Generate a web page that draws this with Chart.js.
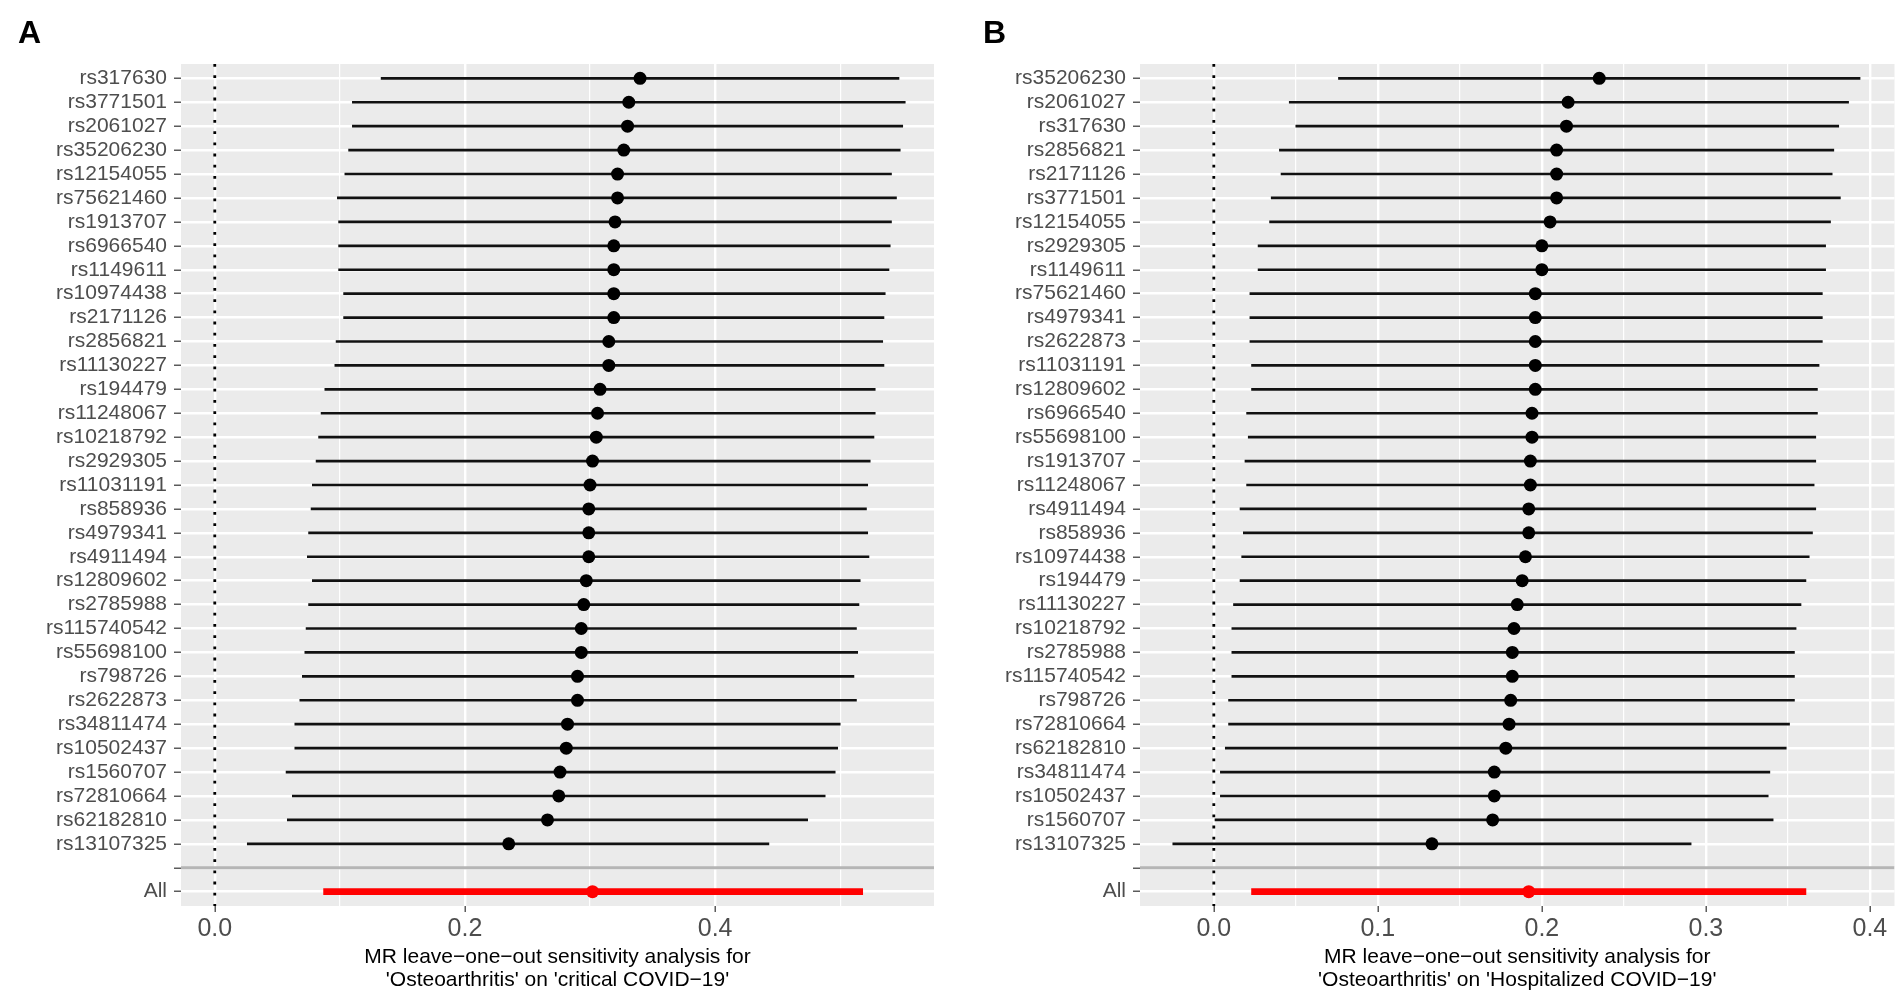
<!DOCTYPE html>
<html>
<head>
<meta charset="utf-8">
<script src="https://cdn.jsdelivr.net/npm/chart.js@4.4.1/dist/chart.umd.min.js"></script>
<style>
    body { margin: 0; background: #fff; width: 1901px; height: 1001px; overflow: hidden; position: relative; font-family: "Liberation Sans", Arial, sans-serif; }
    canvas { position: absolute; top: 0; }
    .tag { position: absolute; top: 16px; font-size: 32px; line-height: 32px; font-weight: bold; color: #000; z-index: 2; }
</style>
</head>
<body>
<canvas id="chart-a" width="960" height="1001" style="left:0;width:960px;height:1001px"></canvas>
<canvas id="chart-b" width="941" height="1001" style="left:960px;width:941px;height:1001px"></canvas>
<div class="tag" style="left:18px">A</div>
<div class="tag" style="left:983px">B</div>
<script>
// Panel A: 'Osteoarthritis' on 'critical COVID-19'
const A_SNPS = ['rs317630', 'rs3771501', 'rs2061027', 'rs35206230', 'rs12154055', 'rs75621460', 'rs1913707',
    'rs6966540', 'rs1149611', 'rs10974438', 'rs2171126', 'rs2856821', 'rs11130227', 'rs194479', 'rs11248067',
    'rs10218792', 'rs2929305', 'rs11031191', 'rs858936', 'rs4979341', 'rs4911494', 'rs12809602', 'rs2785988',
    'rs115740542', 'rs55698100', 'rs798726', 'rs2622873', 'rs34811474', 'rs10502437', 'rs1560707', 'rs72810664',
    'rs62182810', 'rs13107325'];
const A_EST = [0.340, 0.331, 0.330, 0.327, 0.322, 0.322, 0.320, 0.319, 0.319, 0.319, 0.319, 0.315, 0.315, 0.308,
    0.306, 0.305, 0.302, 0.300, 0.299, 0.299, 0.299, 0.297, 0.295, 0.293, 0.293, 0.290, 0.290, 0.282, 0.281,
    0.276, 0.275, 0.266, 0.235];
const A_LO = [0.133, 0.110, 0.110, 0.107, 0.104, 0.098, 0.099, 0.099, 0.099, 0.103, 0.103, 0.097, 0.096, 0.088,
    0.085, 0.083, 0.081, 0.078, 0.077, 0.075, 0.074, 0.078, 0.075, 0.073, 0.072, 0.070, 0.068, 0.064, 0.064,
    0.057, 0.062, 0.058, 0.026];
const A_HI = [0.547, 0.552, 0.550, 0.548, 0.541, 0.545, 0.541, 0.540, 0.539, 0.536, 0.535, 0.534, 0.535, 0.528,
    0.528, 0.527, 0.524, 0.522, 0.521, 0.522, 0.523, 0.516, 0.515, 0.513, 0.514, 0.511, 0.513, 0.500, 0.498,
    0.496, 0.488, 0.474, 0.443];
const A_ALL = [0.302, 0.087, 0.518]; // estimate, lower, upper
const A_X_TICKS = [0, 0.1, 0.2, 0.3, 0.4, 0.5];
const A_X_LABELS = ['0.0', '', '0.2', '', '0.4', ''];
const A_TITLE = ['MR leave\u2212one\u2212out sensitivity analysis for', "'Osteoarthritis' on 'critical COVID\u221219'"];

// Panel B: 'Osteoarthritis' on 'Hospitalized COVID-19'
const B_SNPS = ['rs35206230', 'rs2061027', 'rs317630', 'rs2856821', 'rs2171126', 'rs3771501', 'rs12154055',
    'rs2929305', 'rs1149611', 'rs75621460', 'rs4979341', 'rs2622873', 'rs11031191', 'rs12809602', 'rs6966540',
    'rs55698100', 'rs1913707', 'rs11248067', 'rs4911494', 'rs858936', 'rs10974438', 'rs194479', 'rs11130227',
    'rs10218792', 'rs2785988', 'rs115740542', 'rs798726', 'rs72810664', 'rs62182810', 'rs34811474', 'rs10502437',
    'rs1560707', 'rs13107325'];
const B_EST = [0.235, 0.216, 0.215, 0.209, 0.209, 0.209, 0.205, 0.200, 0.200, 0.196, 0.196, 0.196, 0.196, 0.196,
    0.194, 0.194, 0.193, 0.193, 0.192, 0.192, 0.190, 0.188, 0.185, 0.183, 0.182, 0.182, 0.181, 0.180, 0.178,
    0.171, 0.171, 0.170, 0.133];
const B_LO = [0.076, 0.046, 0.050, 0.040, 0.041, 0.035, 0.034, 0.027, 0.027, 0.022, 0.022, 0.022, 0.023, 0.023,
    0.020, 0.021, 0.019, 0.020, 0.016, 0.018, 0.017, 0.016, 0.012, 0.011, 0.011, 0.011, 0.009, 0.009, 0.007,
    0.004, 0.004, 0.000, -0.025];
const B_HI = [0.394, 0.387, 0.381, 0.378, 0.377, 0.382, 0.376, 0.373, 0.373, 0.371, 0.371, 0.371, 0.369, 0.368,
    0.368, 0.367, 0.367, 0.366, 0.367, 0.365, 0.363, 0.361, 0.358, 0.355, 0.354, 0.354, 0.354, 0.351, 0.349,
    0.339, 0.338, 0.341, 0.291];
const B_ALL = [0.192, 0.023, 0.361];
const B_X_TICKS = [0, 0.05, 0.1, 0.15, 0.2, 0.25, 0.3, 0.35, 0.4];
const B_X_LABELS = ['0.0', '', '0.1', '', '0.2', '', '0.3', '', '0.4'];
const B_TITLE = ['MR leave\u2212one\u2212out sensitivity analysis for', "'Osteoarthritis' on 'Hospitalized COVID\u221219'"];

const FONT = '"Liberation Sans", Arial, sans-serif';

// grey ggplot panel behind the grid
const panelBg = {
    id: 'panelBg',
    beforeDraw: function(chart) {
        const a = chart.chartArea;
        const ctx = chart.ctx;
        ctx.save();
        ctx.fillStyle = '#ebebeb';
        ctx.fillRect(a.left, a.top, a.right - a.left, a.bottom - a.top);
        ctx.restore();
    }
};

function forestPlot(id, snps, est, lo, hi, all, xTicks, xLabels, xMin, xMax, title, yWidth, padRight) {
    const rows = snps.concat(['', 'All']);
    const blankRow = snps.length;
    const allRow = snps.length + 1;
    const yMin = -0.6;
    const yMax = rows.length - 1 + 0.6;
    const isMajor = i => xLabels[i] !== '';

    return new Chart(document.getElementById(id), {
        type: 'scatter',
        data: {
            datasets: [
                {
                    type: 'scatter',
                    data: [{ x: all[0], y: allRow }],
                    backgroundColor: '#ff0000',
                    borderWidth: 0,
                    pointRadius: 6.5,
                    order: 0
                },
                {
                    type: 'scatter',
                    data: est.map((v, i) => ({ x: v, y: i })),
                    backgroundColor: '#000',
                    borderWidth: 0,
                    pointRadius: 6.5,
                    order: 1
                },
                {
                    type: 'bar',
                    indexAxis: 'y',
                    data: [{ y: allRow, x: [all[1], all[2]] }],
                    backgroundColor: '#ff0000',
                    barThickness: 6,
                    grouped: false,
                    borderWidth: 0,
                    order: 2
                },
                {
                    type: 'bar',
                    indexAxis: 'y',
                    data: snps.map((s, i) => ({ y: i, x: [lo[i], hi[i]] })),
                    backgroundColor: '#111',
                    barThickness: 2,
                    grouped: false,
                    borderWidth: 0,
                    order: 2
                },
                {
                    type: 'line',
                    data: [{ x: xMin, y: blankRow }, { x: xMax, y: blankRow }],
                    borderColor: '#b5b5b5',
                    borderWidth: 3,
                    pointRadius: 0,
                    order: 3
                },
                {
                    type: 'line',
                    data: [{ x: 0, y: yMin }, { x: 0, y: yMax }],
                    borderColor: '#000',
                    borderWidth: 2.8,
                    borderDash: [2.8, 8.4],
                    borderCapStyle: 'butt',
                    pointRadius: 0,
                    order: 4
                }
            ]
        },
        options: {
            responsive: false,
            animation: false,
            events: [],
            layout: { padding: { top: 64, right: padRight, left: 0, bottom: 0 } },
            plugins: { legend: { display: false }, tooltip: { enabled: false } },
            scales: {
                x: {
                    type: 'linear',
                    min: xMin,
                    max: xMax,
                    offset: false,
                    beginAtZero: false,
                    afterBuildTicks: axis => { axis.ticks = xTicks.map(v => ({ value: v })); },
                    afterFit: axis => { axis.height = 95; },
                    border: { display: false },
                    grid: {
                        offset: false,
                        color: '#fff',
                        lineWidth: ctx => isMajor(ctx.index) ? 2.4 : 1.2,
                        tickColor: ctx => isMajor(ctx.index) ? '#333' : 'rgba(0,0,0,0)',
                        tickWidth: 1.2,
                        tickLength: 6
                    },
                    ticks: {
                        autoSkip: false,
                        maxRotation: 0,
                        minRotation: 0,
                        padding: 2,
                        color: '#4d4d4d',
                        font: { family: FONT, size: 25 },
                        callback: (v, i) => xLabels[i]
                    },
                    title: {
                        display: true,
                        text: title,
                        color: '#000',
                        font: { family: FONT, size: 21, lineHeight: 1.1 },
                        padding: { top: 0, bottom: 9 }
                    }
                },
                y: {
                    type: 'linear',
                    min: yMin,
                    max: yMax,
                    reverse: true,
                    offset: false,
                    afterBuildTicks: axis => { axis.ticks = rows.map((r, i) => ({ value: i })); },
                    afterFit: axis => { axis.width = yWidth; },
                    border: { display: false },
                    grid: {
                        offset: false,
                        color: '#fff',
                        lineWidth: 2.4,
                        tickColor: '#333',
                        tickWidth: 1.2,
                        tickLength: 7
                    },
                    ticks: {
                        autoSkip: false,
                        padding: 7,
                        color: '#4d4d4d',
                        font: { family: FONT, size: 21, lineHeight: 1 },
                        callback: v => rows[v]
                    }
                }
            }
        },
        plugins: [panelBg]
    });
}

forestPlot('chart-a', A_SNPS, A_EST, A_LO, A_HI, A_ALL, A_X_TICKS, A_X_LABELS, -0.027, 0.575, A_TITLE, 181, 26);
forestPlot('chart-b', B_SNPS, B_EST, B_LO, B_HI, B_ALL, B_X_TICKS, B_X_LABELS, -0.045, 0.415, B_TITLE, 180, 5);
</script>
</body>
</html>
